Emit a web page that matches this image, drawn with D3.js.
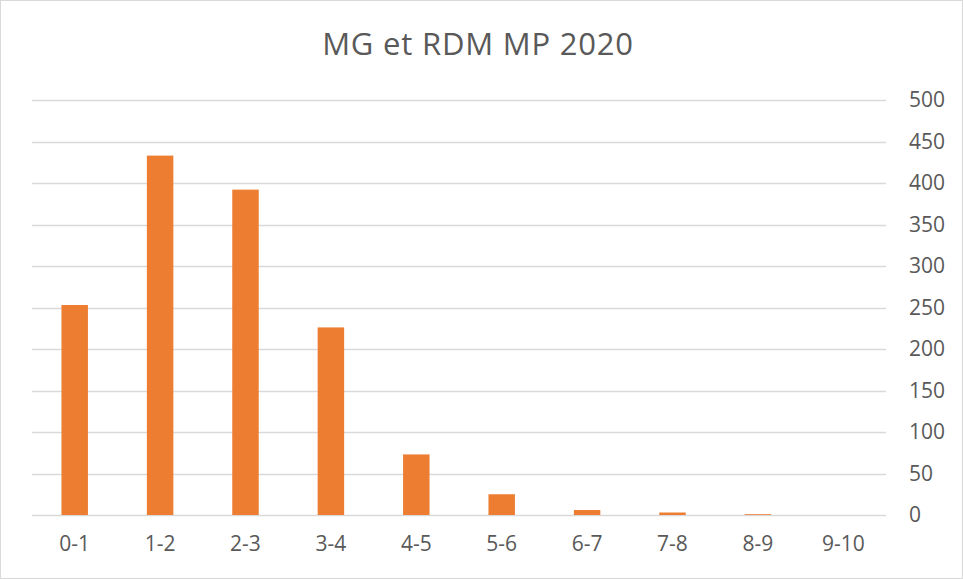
<!DOCTYPE html>
<html>
<head>
<meta charset="utf-8">
<script src="https://cdn.jsdelivr.net/npm/d3@7"></script>
<style>
  html, body { margin: 0; padding: 0; background: #fff; }
  svg { display: block; }
</style>
</head>
<body>
<svg id="chart"></svg>
<script>
var width = 963;
var height = 579;

var title = 'MG et RDM MP 2020';
var categories = ['0-1', '1-2', '2-3', '3-4', '4-5', '5-6', '6-7', '7-8', '8-9', '9-10'];
var values = [253, 433, 392, 226, 73, 25, 6, 3, 1, 0];
var yTicks = [0, 50, 100, 150, 200, 250, 300, 350, 400, 450, 500];

var margin = {top: 100, right: 77, bottom: 64, left: 32};

var svg = d3.select('#chart')
    .attr('width', width)
    .attr('height', height);

svg.append('rect')
    .attr('x', 0.5)
    .attr('y', 0.5)
    .attr('width', width - 1)
    .attr('height', height - 1)
    .attr('fill', '#fff')
    .attr('stroke', '#d9d9d9');

var xScale = d3.scaleBand()
    .domain(categories)
    .range([margin.left, width - margin.right])
    .paddingInner(0.69)
    .paddingOuter(0.345);

var yScale = d3.scaleLinear()
    .domain([0, 500])
    .range([height - margin.bottom, margin.top]);

// gridlines
svg.append('g')
    .selectAll('line')
    .data(yTicks)
    .enter().append('line')
    .attr('x1', margin.left)
    .attr('x2', width - margin.right)
    .attr('y1', d => Math.round(yScale(d)) + 0.5)
    .attr('y2', d => Math.round(yScale(d)) + 0.5)
    .attr('stroke', '#d9d9d9')
    .attr('stroke-width', 1.3);

// bars
svg.append('g')
    .selectAll('rect')
    .data(values)
    .enter().append('rect')
    .attr('x', (d, i) => xScale(categories[i]))
    .attr('width', xScale.bandwidth())
    .attr('y', d => yScale(d))
    .attr('height', d => yScale(0) - yScale(d))
    .attr('fill', '#ed7d31');

// right axis
var yAxis = d3.axisRight(yScale)
    .tickValues(yTicks)
    .tickSize(0)
    .tickPadding(23);

svg.append('g')
    .attr('transform', 'translate(' + (width - margin.right) + ',0)')
    .call(yAxis)
    .call(g => g.select('.domain').remove())
    .selectAll('text')
    .attr('fill', '#595959')
    .attr('font-family', 'Open Sans, sans-serif')
    .attr('font-size', 21);

// bottom axis
var xAxis = d3.axisBottom(xScale)
    .tickSize(0)
    .tickPadding(21);

svg.append('g')
    .attr('transform', 'translate(0,' + yScale(0) + ')')
    .call(xAxis)
    .call(g => g.select('.domain').remove())
    .selectAll('text')
    .attr('fill', '#595959')
    .attr('font-family', 'Open Sans, sans-serif')
    .attr('font-size', 21);

svg.append('text')
    .attr('x', 478)
    .attr('y', 55)
    .attr('text-anchor', 'middle')
    .attr('fill', '#595959')
    .attr('font-family', 'Open Sans, sans-serif')
    .attr('font-size', 31)
    .attr('letter-spacing', 0.8)
    .text(title);
</script>
</body>
</html>
